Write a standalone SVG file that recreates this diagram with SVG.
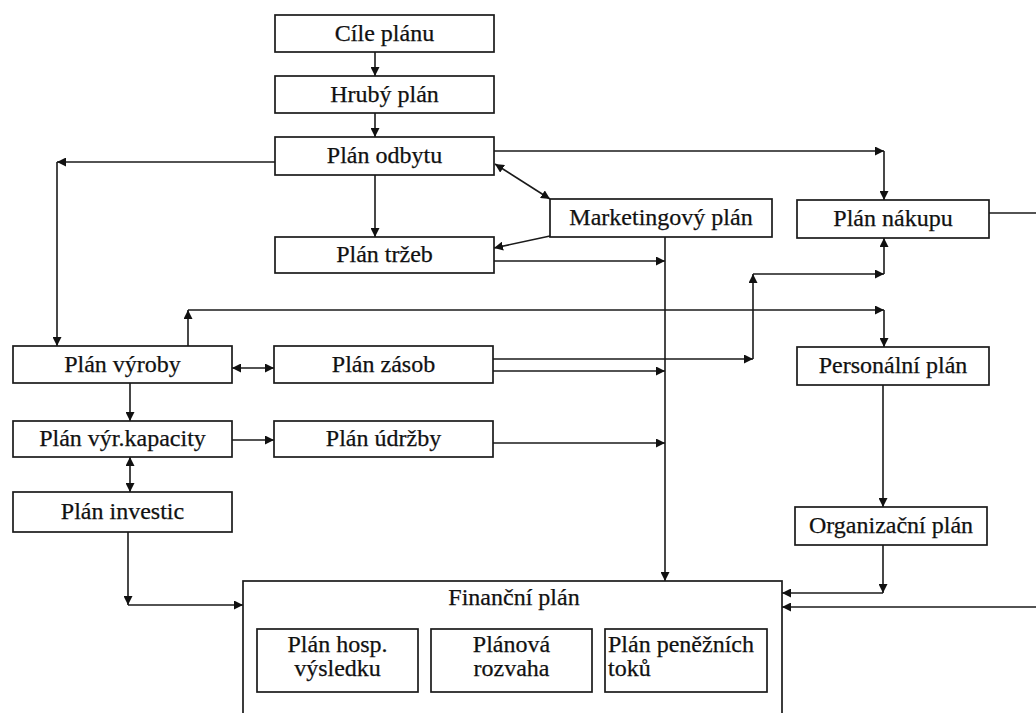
<svg xmlns="http://www.w3.org/2000/svg" width="1036" height="713" viewBox="0 0 1036 713">
  <style>
    .box { fill: #fff; stroke: #1a1a1a; stroke-width: 1.7; }
    .lbl { font-size: 24px; fill: #111; stroke: #111; stroke-width: 0.25; text-anchor: middle; }
    .lbl-l { text-anchor: start; }
    .ln { fill: none; stroke: #1a1a1a; stroke-width: 1.6; }
    .ar { marker-end: url(#arr); }
    .ar2 { marker-start: url(#arrs); marker-end: url(#arr); }
  </style>
  <defs>
    <marker id="arr" viewBox="0 0 10 10" refX="10" refY="5" markerWidth="9" markerHeight="9" markerUnits="userSpaceOnUse" orient="auto">
      <path d="M0,0 L10,5 L0,10 Z" fill="#111"/>
    </marker>
    <marker id="arrs" viewBox="0 0 10 10" refX="0" refY="5" markerWidth="9" markerHeight="9" markerUnits="userSpaceOnUse" orient="auto">
      <path d="M10,0 L0,5 L10,10 Z" fill="#111"/>
    </marker>
  </defs>
  <rect width="1036" height="713" fill="#fff"/>

  <!-- connectors -->
  <g id="connectors">
    <path class="ln ar" d="M375 52 V76"/>
    <path class="ln ar" d="M375 113 V137"/>
    <path class="ln ar" d="M375 175 V237"/>
    <path class="ln ar" d="M275 162 H57"/>
    <path class="ln ar" d="M57 162 V346"/>
    <path class="ln ar2" d="M495 164 L550 199"/>
    <path class="ln ar" d="M550 236 L494 248"/>
    <path class="ln ar" d="M494 151 H884"/>
    <path class="ln ar" d="M884 151 V200"/>
    <path class="ln ar" d="M494 261 H665"/>
    <path class="ln ar" d="M665 237 V581"/>
    <path class="ln" d="M989 213 H1036"/>
    <path class="ln ar" d="M188 346 V310"/>
    <path class="ln ar" d="M188 310 H884"/>
    <path class="ln ar" d="M884 310 V347"/>
    <path class="ln ar" d="M493 359 H753"/>
    <path class="ln ar" d="M753 359 V274"/>
    <path class="ln ar" d="M753 274 H884"/>
    <path class="ln ar" d="M884 274 V238"/>
    <path class="ln ar" d="M493 371 H665"/>
    <path class="ln ar2" d="M232 368 H274"/>
    <path class="ln ar" d="M130 383 V421"/>
    <path class="ln ar" d="M232 440 H274"/>
    <path class="ln ar" d="M493 443 H665"/>
    <path class="ln ar2" d="M130 457 V492"/>
    <path class="ln ar" d="M128 532 V605"/>
    <path class="ln ar" d="M128 605 H243"/>
    <path class="ln ar" d="M883 385 V507"/>
    <path class="ln ar" d="M883 545 V593"/>
    <path class="ln ar" d="M883 593 H782"/>
    <path class="ln ar" d="M1036 607 H782"/>
  </g>

  <g id="nodes" font-family="Liberation Serif, Times New Roman, DejaVu Serif, serif">
    <g id="cile-planu">
      <rect class="box" x="275" y="15" width="219" height="37"/>
      <text class="lbl" x="384.5" y="41">Cíle plánu</text>
    </g>
    <g id="hruby-plan">
      <rect class="box" x="275" y="76" width="219" height="37"/>
      <text class="lbl" x="384.5" y="102">Hrubý plán</text>
    </g>
    <g id="plan-odbytu">
      <rect class="box" x="275" y="137" width="219" height="38"/>
      <text class="lbl" x="384.5" y="163">Plán odbytu</text>
    </g>
    <g id="marketingovy-plan">
      <rect class="box" x="550" y="199" width="222" height="38"/>
      <text class="lbl" x="661" y="225">Marketingový plán</text>
    </g>
    <g id="plan-nakupu">
      <rect class="box" x="797" y="200" width="192" height="38"/>
      <text class="lbl" x="893" y="226">Plán nákupu</text>
    </g>
    <g id="plan-trzeb">
      <rect class="box" x="275" y="237" width="219" height="36"/>
      <text class="lbl" x="384.5" y="262">Plán tržeb</text>
    </g>
    <g id="plan-vyroby">
      <rect class="box" x="13" y="346" width="219" height="37"/>
      <text class="lbl" x="122.5" y="372">Plán výroby</text>
    </g>
    <g id="plan-zasob">
      <rect class="box" x="274" y="346" width="219" height="37"/>
      <text class="lbl" x="383.5" y="372">Plán zásob</text>
    </g>
    <g id="personalni-plan">
      <rect class="box" x="797" y="347" width="192" height="38"/>
      <text class="lbl" x="893" y="373">Personální plán</text>
    </g>
    <g id="plan-vyr-kapacity">
      <rect class="box" x="13" y="421" width="219" height="36"/>
      <text class="lbl" x="122.5" y="446">Plán výr.kapacity</text>
    </g>
    <g id="plan-udrzby">
      <rect class="box" x="274" y="421" width="219" height="36"/>
      <text class="lbl" x="383.5" y="446">Plán údržby</text>
    </g>
    <g id="plan-investic">
      <rect class="box" x="13" y="492" width="219" height="40"/>
      <text class="lbl" x="122.5" y="519">Plán investic</text>
    </g>
    <g id="organizacni-plan">
      <rect class="box" x="795" y="507" width="192" height="38"/>
      <text class="lbl" x="891" y="533">Organizační plán</text>
    </g>
    <g id="financni-plan">
      <rect class="box" x="243" y="581" width="539" height="140"/>
      <text class="lbl" x="514" y="605">Finanční plán</text>
      <g id="plan-hosp-vysledku">
        <rect class="box" x="257" y="629" width="161" height="63"/>
        <text class="lbl" x="337.5" y="652">Plán hosp.</text>
        <text class="lbl" x="337.5" y="676">výsledku</text>
      </g>
      <g id="planova-rozvaha">
        <rect class="box" x="431" y="629" width="161" height="63"/>
        <text class="lbl" x="511.5" y="652">Plánová</text>
        <text class="lbl" x="511.5" y="676">rozvaha</text>
      </g>
      <g id="plan-peneznich-toku">
        <rect class="box" x="605" y="629" width="162" height="63"/>
        <text class="lbl lbl-l" x="608" y="652">Plán peněžních</text>
        <text class="lbl lbl-l" x="608" y="676">toků</text>
      </g>
    </g>
  </g>
</svg>
